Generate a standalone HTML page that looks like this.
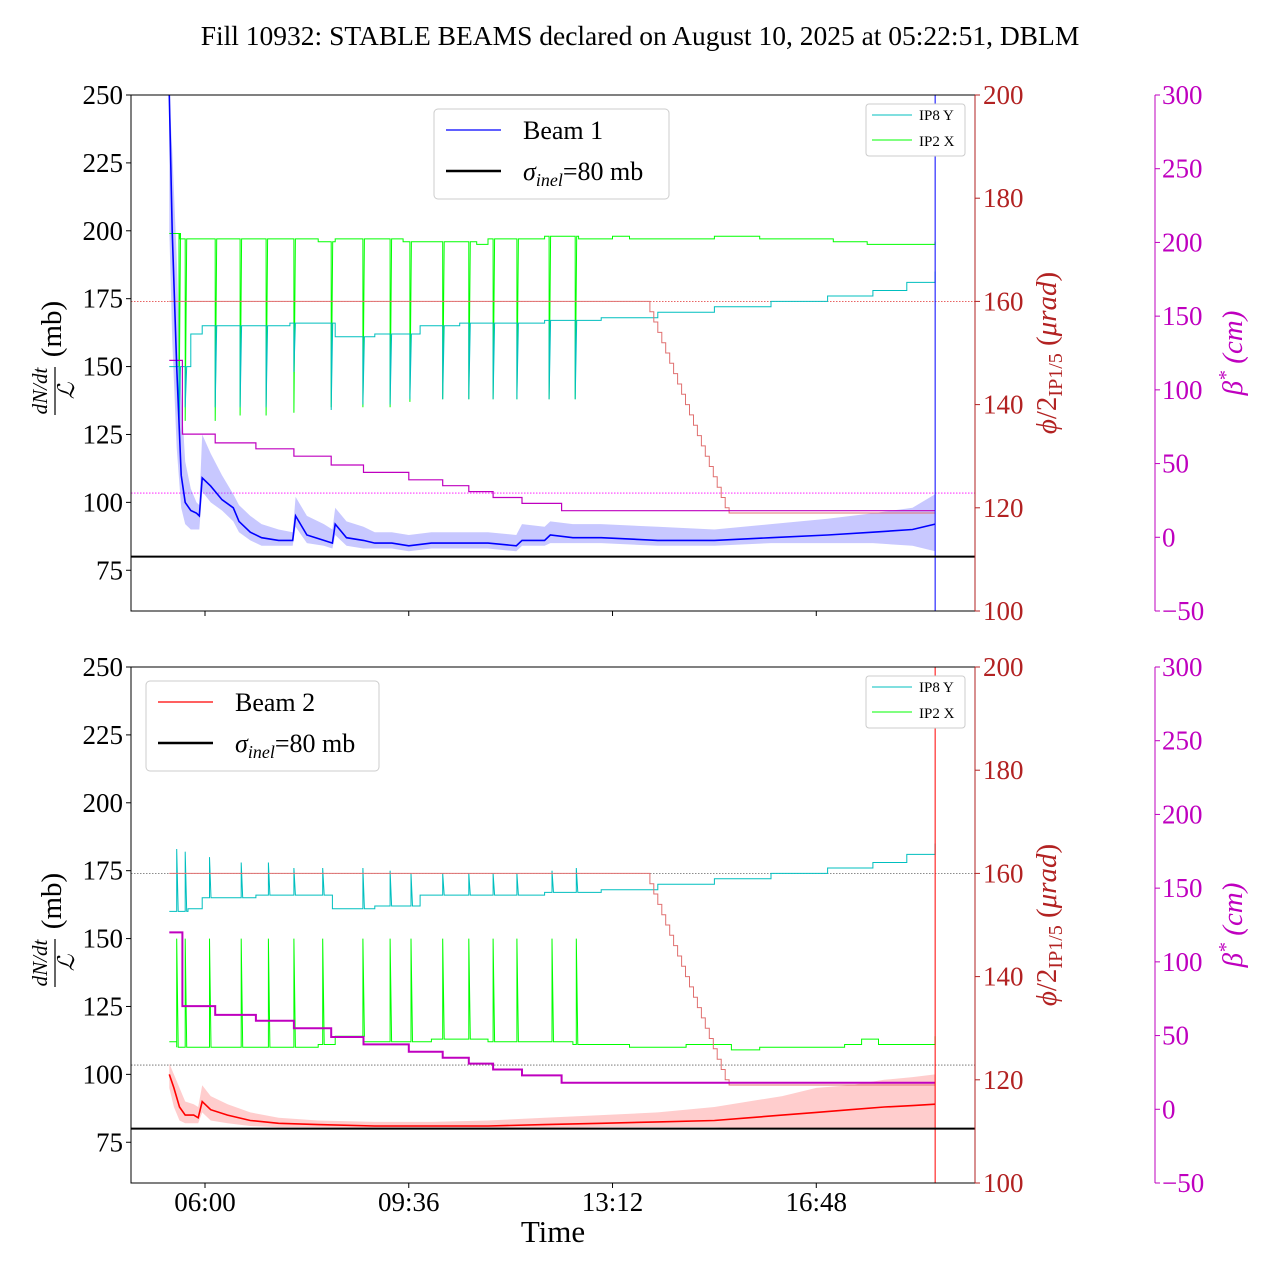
<!DOCTYPE html>
<html><head><meta charset="utf-8">
<style>
body{margin:0;background:#fff;}
svg text{font-family:"Liberation Serif","DejaVu Serif",serif;}
</style></head>
<body>
<svg id="chart" width="1280" height="1280" xmlns="http://www.w3.org/2000/svg">
<text x="640" y="45" font-size="27.5" text-anchor="middle">Fill 10932: STABLE BEAMS declared on August 10, 2025 at 05:22:51, DBLM</text>
</svg>
<script>
// ---- data (time in hours) ----
const xTickHours = [6, 9.6, 13.2, 16.8];
const xTickLabels = ["06:00", "09:36", "13:12", "16:48"];
const leftTicks = [75, 100, 125, 150, 175, 200, 225, 250];
const crimsonTicks = [100, 120, 140, 160, 180, 200];
const magentaTicks = [-50, 0, 50, 100, 150, 200, 250, 300];

const b1T = [5.37,5.42,5.5,5.58,5.65,5.75,5.85,5.9,5.95,6.1,6.3,6.5,6.6,6.8,7.0,7.3,7.55,7.6,7.8,8.1,8.25,8.3,8.5,8.8,9.0,9.3,9.6,10.0,10.5,11.0,11.5,11.6,12.0,12.1,12.5,13.0,14,15,16,17,17.8,18.5,18.9];
const b1V = [250,200,150,110,100,97,96,95,109,106,101,98,93,89,87,86,86,95,88,86,85,92,87,86,85,85,84,85,85,85,84,86,86,88,87,87,86,86,87,88,89,90,92];
const b1U = [250,230,190,140,115,105,100,99,125,118,110,103,99,95,92,90,89,102,95,92,90,98,93,91,89,89,88,89,89,89,88,92,91,93,92,92,91,90,92,94,96,98,103];
const b1L = [200,160,120,98,92,90,90,90,104,100,97,93,89,86,84,84,84,91,85,84,83,88,84,83,83,83,82,83,83,83,82,84,84,85,85,85,84,84,85,85,85,84,82];

const b2T = [5.37,5.45,5.55,5.65,5.8,5.88,5.95,6.1,6.4,6.8,7.3,8,9,10,11,12,13,14,15,15.6,16.2,16.8,17.4,18.0,18.5,18.9];
const b2V = [100,95,88,85,85,84,90,87,85,83,82,81.5,81,81,81,81.5,82,82.5,83,84,85,86,87,88,88.5,89];
const b2U = [104,100,95,90,89,88,96,92,89,86,84,83,82.5,82.5,83,84,85,86,88,90,92,95,96,98,99,100];
const b2L = [95,88,83,82,82,82,86,83,82,81,80.5,80.5,80.3,80.3,80.3,80.3,80.5,80.5,80.5,80,80,80,80,80,80,80];

const crossT = [5.37,13.86,13.93,14.0,14.07,14.14,14.21,14.28,14.35,14.42,14.49,14.56,14.63,14.7,14.77,14.84,14.91,14.98,15.05,15.12,15.19,15.26,18.9];
const crossV = [160,158,156,154,152,150,148,146,144,142,140,138,136,134,132,130,128,126,124,122,120,119,119];

const betaT = [5.37,5.6,6.18,6.9,7.57,8.23,8.8,9.6,10.2,10.66,11.09,11.6,12.3,18.9];
const betaV = [120,70,64,60,55,49,44,39,35,31,27,23,18,18];

const g1T = [5.37,5.55,8.0,8.3,9.5,10.8,11.0,12.0,12.6,13.2,13.5,15.0,15.8,17.1,17.7,18.9];
const g1V = [199,197,196,197,196,195,197,198,197,198,197,198,197,196,195,196];
const c1T = [5.37,5.75,5.95,6.8,7.5,8.3,9.0,9.8,10.5,11.5,12.0,13.0,14.0,15.0,16.0,17.0,17.8,18.4,18.9];
const c1V = [150,162,165,165,166,161,162,165,166,166,167,168,170,172,174,176,178,181,185];
const spike1T = [5.54,5.65,6.18,6.62,7.08,7.57,8.23,8.79,9.27,9.62,10.2,10.66,11.09,11.51,12.08,12.54];
const g1Spike = [130,130,130,132,132,133,135,135,135,137,138,138,138,138,138,138];
const c1Spike = [128,135,135,135,135,148,134,136,136,138,138,138,138,138,138,138];

const g2T = [5.37,5.5,8.0,8.3,8.8,10.0,11,12.5,13.5,14.5,15.3,15.8,17.3,17.6,17.9,18.9];
const g2V = [112,110,111,114,112,113,112,111,110,111,109,110,111,113,111,114];
const c2T = [5.37,5.7,5.95,6.9,7.6,8.25,9.0,9.8,10.5,12,13,14,15,16,17,17.8,18.4,18.9];
const c2V = [160,161,165,166,166,161,162,166,166,167,168,170,172,174,176,178,181,185];
const spike2T = [5.5,5.65,6.08,6.64,7.12,7.57,8.08,8.79,9.27,9.64,10.2,10.66,11.09,11.51,12.13,12.56];
const g2Spike = [150,150,150,150,150,150,150,150,150,150,150,150,150,150,150,150];
const c2Spike = [183,182,180,178,178,176,176,176,175,174,174,174,174,174,175,176];

// ---- layout ----
const svg = document.getElementById('chart');
const NS = 'http://www.w3.org/2000/svg';
const X0 = 131, X1 = 975;
function X(t){ return 205 + (t - 6) * 56.6; }
function mk(tag, attrs, parent){
  const e = document.createElementNS(NS, tag);
  for (const k in attrs) e.setAttribute(k, attrs[k]);
  (parent || svg).appendChild(e);
  return e;
}
function linePath(T, V, Y){
  return T.map((t,i)=>(i?'L':'M')+X(t).toFixed(1)+','+Y(V[i]).toFixed(1)).join('');
}
function bandPath(T, U, L, Y){
  let d = T.map((t,i)=>(i?'L':'M')+X(t).toFixed(1)+','+Y(U[i]).toFixed(1)).join('');
  for (let i=T.length-1;i>=0;i--) d += 'L'+X(T[i]).toFixed(1)+','+Y(L[i]).toFixed(1);
  return d+'Z';
}
function stepPath(T, V, Y, ST, SV){
  const ev = [];
  T.forEach((t,i)=>ev.push({t:t,k:'s',v:V[i]}));
  (ST||[]).forEach((t,i)=>ev.push({t:t,k:'p',v:SV[i]}));
  ev.sort((a,b)=>a.t-b.t);
  let cur = V[0], d = 'M'+X(T[0]).toFixed(1)+','+Y(cur).toFixed(1);
  ev.forEach(e=>{
    const x = X(e.t).toFixed(1);
    if (e.k==='s'){ d += 'L'+x+','+Y(cur).toFixed(1)+'L'+x+','+Y(e.v).toFixed(1); cur = e.v; }
    else { d += 'L'+x+','+Y(cur).toFixed(1)+'L'+x+','+Y(e.v).toFixed(1)+'L'+(X(e.t)+1.5).toFixed(1)+','+Y(cur).toFixed(1); }
  });
  return d;
}

function panel(top, beamName, beamColor, bandColor, bT, bV, bU, bL, gT, gV, cT, cV, sT, gS, cS, dotColors, legendBox, showXLabels){
  const bot = top + 516;
  const YL = v => top + (250 - v) * 516/190;
  const YC = v => top + (200 - v) * 516/100;
  const YM = v => top + (300 - v) * 516/350;
  const g = mk('g', {});
  
  
  const defsId = 'clip'+top;
  const cp = mk('clipPath', {id:defsId}, g);
  mk('rect', {x:X0, y:top, width:X1-X0, height:516}, cp);
  const plot = mk('g', {'clip-path':'url(#'+defsId+')'}, g);

  let e = mk('line', {x1:X0,x2:X1,y1:YC(160),y2:YC(160),stroke:dotColors[0],'stroke-width':0.8,'stroke-dasharray':'1.5,1.5'}, plot);
   
  e = mk('line', {x1:X0,x2:X1,y1:YM(30),y2:YM(30),stroke:dotColors[1],'stroke-width':0.8,'stroke-dasharray':'1.5,1.5'}, plot);
   

  e = mk('path', {d:bandPath(bT,bU,bL,YL), fill:bandColor, 'fill-opacity':0.35, stroke:'none'}, plot);
   
  e = mk('path', {d:stepPath(gT,gV,YL,sT,gS), fill:'none', stroke:'#00ff00','stroke-width':1}, plot);
   
  e = mk('path', {d:stepPath(cT,cV,YL,sT,cS), fill:'none', stroke:'#00bfbf','stroke-width':1}, plot);
   
  e = mk('path', {d:stepPath(crossT,crossV,YC), fill:'none', stroke:'#e07070','stroke-width':1}, plot);
   
  e = mk('path', {d:stepPath(betaT,betaV,YM), fill:'none', stroke:'#bf00bf','stroke-width':top>600?2:1.2}, plot);
   
  e = mk('path', {d:linePath(bT,bV,YL), fill:'none', stroke:beamColor,'stroke-width':1.6}, plot);
   
  e = mk('line', {x1:X(18.9),x2:X(18.9),y1:top,y2:bot,stroke:beamColor,'stroke-width':1}, plot);
   
  e = mk('line', {x1:X0,x2:X1,y1:YL(80),y2:YL(80),stroke:'#000','stroke-width':2}, plot);
   

  e = mk('rect', {x:X0,y:top,width:X1-X0,height:516,fill:'none',stroke:'#000','stroke-width':1}, g);
   
  e = mk('line', {x1:X1,x2:X1,y1:top,y2:bot,stroke:'#b22222','stroke-width':1}, g);
  e = mk('line', {x1:1155,x2:1155,y1:top,y2:bot,stroke:'#bf00bf','stroke-width':1}, g);
   

  leftTicks.forEach(v=>{
    mk('line',{x1:X0-5,x2:X0,y1:YL(v),y2:YL(v),stroke:'#000'},g);
    const t = mk('text',{x:X0-8,y:YL(v)+9,'font-size':27,'text-anchor':'end'},g);
    t.textContent = v;
     
  });
  crimsonTicks.forEach(v=>{
    mk('line',{x1:X1,x2:X1+5,y1:YC(v),y2:YC(v),stroke:'#b22222'},g);
    const t = mk('text',{x:X1+8,y:YC(v)+9,'font-size':27,fill:'#b22222'},g);
    t.textContent = v;
     
  });
  magentaTicks.forEach(v=>{
    mk('line',{x1:1155,x2:1160,y1:YM(v),y2:YM(v),stroke:'#bf00bf'},g);
    const t = mk('text',{x:1162,y:YM(v)+9,'font-size':27,fill:'#bf00bf'},g);
    t.textContent = (v<0?'\u2212'+(-v):v);
     
  });
  xTickHours.forEach((h,i)=>{
    mk('line',{x1:X(h),x2:X(h),y1:bot,y2:bot+5,stroke:'#000'},g);
    if (showXLabels){
      const t = mk('text',{x:X(h),y:bot+28,'font-size':27,'text-anchor':'middle'},g);
      t.textContent = xTickLabels[i];
       
    }
  });

  const cy = top + 258;
  const lt = mk('g',{transform:'translate(55,'+(cy+8)+') rotate(-90)'},g);
   
  let t = mk('text',{x:-30,y:-8,'font-size':21,'text-anchor':'middle','font-style':'italic'},lt); t.textContent='dN/dt';
  mk('line',{x1:-54,x2:-6,y1:0,y2:0,stroke:'#000','stroke-width':1.2},lt);
  t = mk('text',{x:-30,y:19,'font-size':23,'text-anchor':'middle','font-style':'italic'},lt); t.textContent='\u2112';
  t = mk('text',{x:32,y:6,'font-size':29,'text-anchor':'middle'},lt); t.textContent='(mb)';
  const ct = mk('text',{transform:'translate(1056,'+cy+') rotate(-90)','font-size':29,'text-anchor':'middle',fill:'#b22222'},g);
   
  ct.innerHTML = '<tspan font-style="italic">\u03d5</tspan>/2<tspan font-size="20" dy="6">IP1/5</tspan><tspan dy="-6"> (</tspan><tspan font-style="italic">\u03bcrad</tspan>)';
  const mt = mk('text',{transform:'translate(1242,'+cy+') rotate(-90)','font-size':29,'text-anchor':'middle',fill:'#bf00bf','font-style':'italic'},g);
   
  mt.innerHTML = '\u03b2<tspan font-size="20" dy="-10">*</tspan><tspan dy="10"> (cm)</tspan>';

  const lg = mk('g',{},g);
   
  const [lx,ly,lw,lh] = legendBox;
  mk('rect',{x:lx,y:ly,width:lw,height:lh,rx:4,fill:'#fff',stroke:'#ccc'},lg);
  mk('line',{x1:lx+12,x2:lx+67,y1:ly+21,y2:ly+21,stroke:beamColor,'stroke-width':1.2},lg);
  t = mk('text',{x:lx+89,y:ly+30,'font-size':26},lg); t.textContent=beamName;
   
  mk('line',{x1:lx+12,x2:lx+67,y1:ly+62,y2:ly+62,stroke:'#000','stroke-width':2.5},lg);
  t = mk('text',{x:lx+89,y:ly+71,'font-size':26},lg);
  t.innerHTML='<tspan font-style="italic">\u03c3</tspan><tspan font-style="italic" font-size="18" dy="6">inel</tspan><tspan dy="-6">=80 mb</tspan>';
   

  const sg = mk('g',{},g);
   
  mk('rect',{x:866,y:top+9,width:99,height:52,rx:3,fill:'#fff',stroke:'#ccc'},sg);
  mk('line',{x1:872,x2:912,y1:top+20,y2:top+20,stroke:'#00bfbf'},sg);
  t = mk('text',{x:919,y:top+25,'font-size':15},sg); t.textContent='IP8 Y';
  mk('line',{x1:872,x2:912,y1:top+45,y2:top+45,stroke:'#00ff00'},sg);
  t = mk('text',{x:919,y:top+51,'font-size':15},sg); t.textContent='IP2 X';
}

panel(95,'Beam 1','#0000ff','#6060ff',b1T,b1V,b1U,b1L,g1T,g1V,c1T,c1V,spike1T,g1Spike,c1Spike,['#e03030','#ff00ff'],[434,109,235,90],false);
panel(667,'Beam 2','#ff0000','#ff7070',b2T,b2V,b2U,b2L,g2T,g2V,c2T,c2V,spike2T,g2Spike,c2Spike,['#666','#666'],[146,681,233,90],true);

const xt = mk('text',{x:553,y:1242,'font-size':31,'text-anchor':'middle'});
xt.textContent = 'Time';


</script>
</body></html>
